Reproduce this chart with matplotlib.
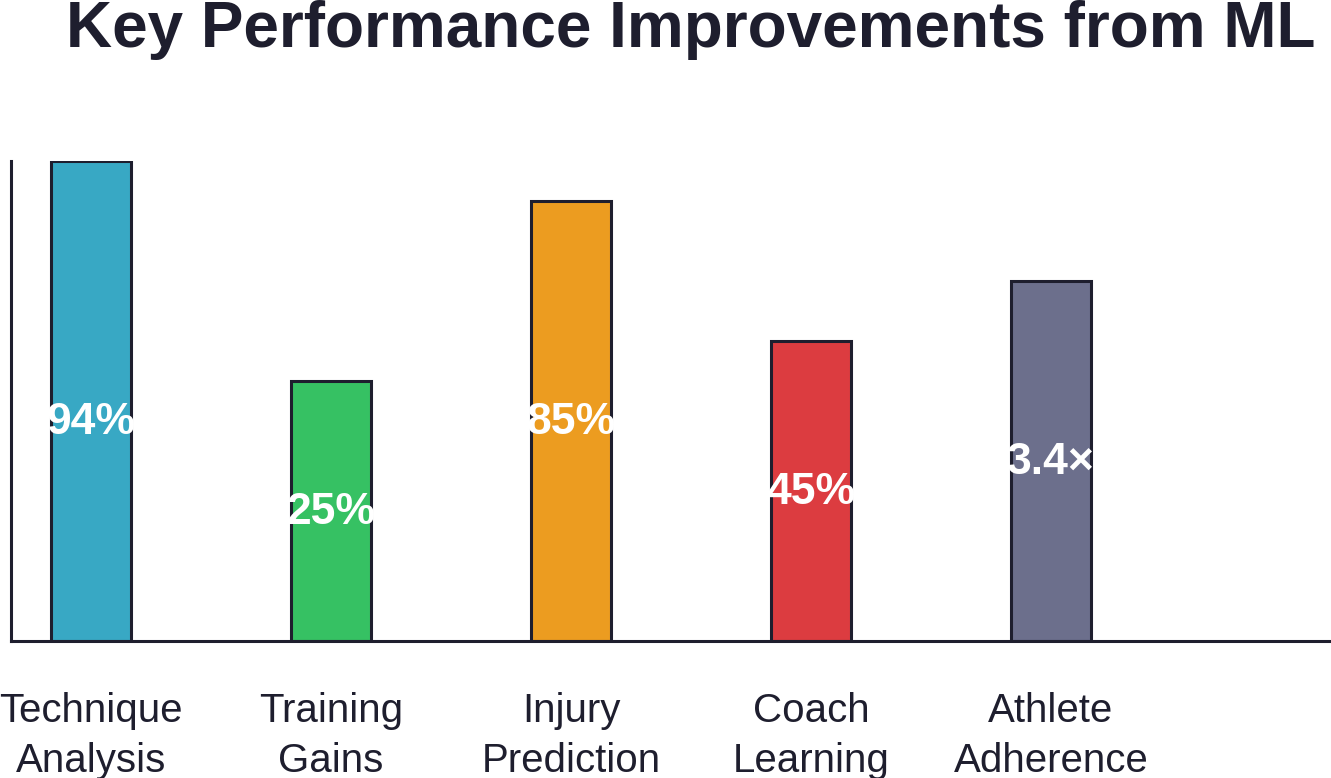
import matplotlib
matplotlib.use("Agg")
import matplotlib.pyplot as plt

categories = ["Technique\nAnalysis", "Training\nGains", "Injury\nPrediction", "Coach\nLearning", "Athlete\nAdherence"]
bar_heights = [12, 6.5, 11, 7.5, 9]
value_labels = ["94%", "25%", "85%", "45%", "3.4×"]
bar_colors = ["#38a8c4", "#36c163", "#ec9c20", "#dc3c40", "#6c6f8c"]

ink = "#1e1e2e"
plt.rcParams["font.family"] = ["Liberation Sans", "DejaVu Sans"]

fig = plt.figure(figsize=(13.31, 7.78), dpi=100)
ax = fig.add_axes([11 / 1331, (778 - 641) / 778, 1320 / 1331, 480 / 778])

x = list(range(len(categories)))
ax.bar(x, bar_heights, width=1 / 3, color=bar_colors, edgecolor=ink, linewidth=2.2, zorder=2)

for xi, h, lab in zip(x, bar_heights, value_labels):
    ax.text(xi, min(h / 2, 5.5) - 0.04, lab, ha="center", va="center", color="white",
            fontsize=32, fontweight="bold", zorder=3)

ax.set_xlim(-1 / 3, 5 + 1 / 6)
ax.set_ylim(0, 12)
ax.set_xticks(x)
ax.set_xticklabels(categories, fontsize=29, color=ink, linespacing=1.38)
ax.tick_params(axis="x", length=0, pad=37)
ax.set_yticks([])
for side in ["top", "right"]:
    ax.spines[side].set_visible(False)
for side in ["left", "bottom"]:
    ax.spines[side].set_linewidth(2.2)
    ax.spines[side].set_color(ink)

fig.text(691 / 1331, (778 - 47) / 778, "Key Performance Improvements from ML", ha="center",
         va="baseline", fontsize=46, fontweight="bold", color=ink)

fig.savefig("out.png", dpi=100)
